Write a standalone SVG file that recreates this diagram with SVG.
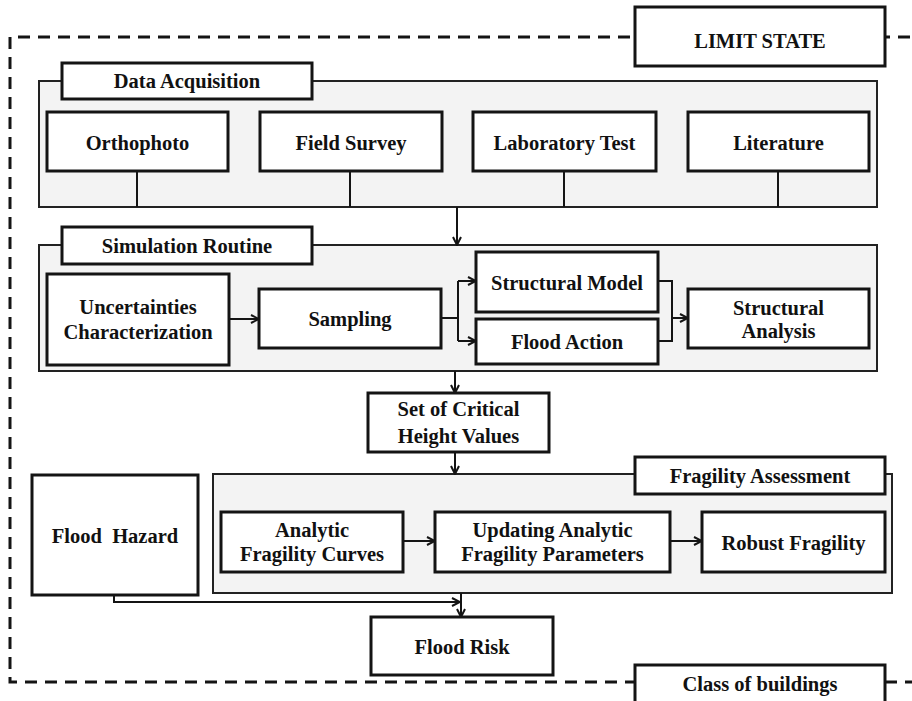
<svg xmlns="http://www.w3.org/2000/svg" width="912" height="701" viewBox="0 0 912 701">
  <style>
    .box { fill: #ffffff; stroke: #141414; stroke-width: 3; }
    .panel { fill: #f3f3f3; stroke: #222222; stroke-width: 2; }
    .frame { fill: none; stroke: #141414; stroke-width: 3; stroke-dasharray: 12 8; }
    .wire { fill: none; stroke: #141414; stroke-width: 2; }
    .arrow { fill: none; stroke: #141414; stroke-width: 2; marker-end: url(#head); }
    text { font-family: "Liberation Serif", "Times New Roman", serif; font-weight: bold; font-size: 20.5px; fill: #111111; text-anchor: middle; }
  </style>
  <defs>
    <marker id="head" viewBox="0 0 10 10" refX="9" refY="5" markerWidth="10" markerHeight="10" markerUnits="userSpaceOnUse" orient="auto">
      <path d="M1,1 L9,5 L1,9" fill="none" stroke="#141414" stroke-width="2"/>
    </marker>
  </defs>
  <rect width="912" height="701" fill="#ffffff"/>

  <!-- dashed outer frame (limit state / class of buildings) -->
  <path class="frame" d="M930 37 H10 V682 H930"/>

  <!-- panels -->
  <g id="data-acquisition">
    <rect class="panel" x="39" y="81" width="838" height="126"/>
    <rect class="box" x="62" y="63" width="250" height="36"/>
    <text x="187" y="88">Data Acquisition</text>
  </g>
  <g id="simulation-routine">
    <rect class="panel" x="39" y="245" width="838" height="126"/>
    <rect class="box" x="62" y="227" width="250" height="37"/>
    <text x="187" y="253">Simulation Routine</text>
  </g>
  <g id="fragility-assessment">
    <rect class="panel" x="213" y="474" width="679" height="119"/>
    <rect class="box" x="635" y="457" width="250" height="37"/>
    <text x="760" y="483">Fragility Assessment</text>
  </g>

  <!-- connectors -->
  <g id="connectors">
    <path class="wire" d="M137 171 V207 M350 171 V207 M564 171 V207 M778 171 V207"/>
    <path class="arrow" d="M457 207 V245"/>
    <path class="arrow" d="M229 319 H259"/>
    <path class="wire" d="M441 318 H458 M458 281 V341"/>
    <path class="arrow" d="M458 281 H476"/>
    <path class="arrow" d="M458 341 H476"/>
    <path class="wire" d="M658 281 H672 V341 H658"/>
    <path class="arrow" d="M672 318 H688"/>
    <path class="arrow" d="M455 371 V393"/>
    <path class="arrow" d="M455 452 V474"/>
    <path class="arrow" d="M403 541 H435"/>
    <path class="arrow" d="M670 541 H702"/>
    <path class="arrow" d="M114 595 V602 H460"/>
    <path class="arrow" d="M461 593 V617"/>
  </g>

  <!-- nodes -->
  <g id="limit-state">
    <rect class="box" x="635" y="7" width="250" height="59"/>
    <text x="760" y="48">LIMIT STATE</text>
  </g>
  <g id="orthophoto">
    <rect class="box" x="47" y="112" width="181" height="59"/>
    <text x="137.5" y="150">Orthophoto</text>
  </g>
  <g id="field-survey">
    <rect class="box" x="260" y="112" width="182" height="59"/>
    <text x="351" y="150">Field Survey</text>
  </g>
  <g id="laboratory-test">
    <rect class="box" x="473" y="112" width="183" height="59"/>
    <text x="564.5" y="150">Laboratory Test</text>
  </g>
  <g id="literature">
    <rect class="box" x="688" y="112" width="181" height="59"/>
    <text x="778.5" y="150">Literature</text>
  </g>
  <g id="uncertainties">
    <rect class="box" x="47" y="274" width="182" height="91"/>
    <text x="138" y="314">Uncertainties</text>
    <text x="138" y="339">Characterization</text>
  </g>
  <g id="sampling">
    <rect class="box" x="259" y="289" width="182" height="59"/>
    <text x="350" y="326">Sampling</text>
  </g>
  <g id="structural-model">
    <rect class="box" x="476" y="252" width="182" height="60"/>
    <text x="567" y="290">Structural Model</text>
  </g>
  <g id="flood-action">
    <rect class="box" x="476" y="319" width="182" height="45"/>
    <text x="567" y="349">Flood Action</text>
  </g>
  <g id="structural-analysis">
    <rect class="box" x="688" y="289" width="181" height="59"/>
    <text x="778.5" y="315">Structural</text>
    <text x="778.5" y="338">Analysis</text>
  </g>
  <g id="critical-heights">
    <rect class="box" x="368" y="393" width="181" height="59"/>
    <text x="458.5" y="416">Set of Critical</text>
    <text x="458.5" y="443">Height Values</text>
  </g>
  <g id="flood-hazard">
    <rect class="box" x="32" y="475" width="166" height="120"/>
    <text x="115" y="543" style="white-space:pre">Flood  Hazard</text>
  </g>
  <g id="analytic-curves">
    <rect class="box" x="221" y="512" width="182" height="60"/>
    <text x="312" y="537">Analytic</text>
    <text x="312" y="561">Fragility Curves</text>
  </g>
  <g id="updating-parameters">
    <rect class="box" x="435" y="512" width="235" height="60"/>
    <text x="552.5" y="537">Updating Analytic</text>
    <text x="552.5" y="561">Fragility Parameters</text>
  </g>
  <g id="robust-fragility">
    <rect class="box" x="702" y="512" width="183" height="60"/>
    <text x="793.5" y="550">Robust Fragility</text>
  </g>
  <g id="flood-risk">
    <rect class="box" x="371" y="617" width="182" height="58"/>
    <text x="462" y="654">Flood Risk</text>
  </g>
  <g id="class-of-buildings">
    <rect class="box" x="635" y="665" width="250" height="42"/>
    <text x="760" y="691">Class of buildings</text>
  </g>
</svg>
